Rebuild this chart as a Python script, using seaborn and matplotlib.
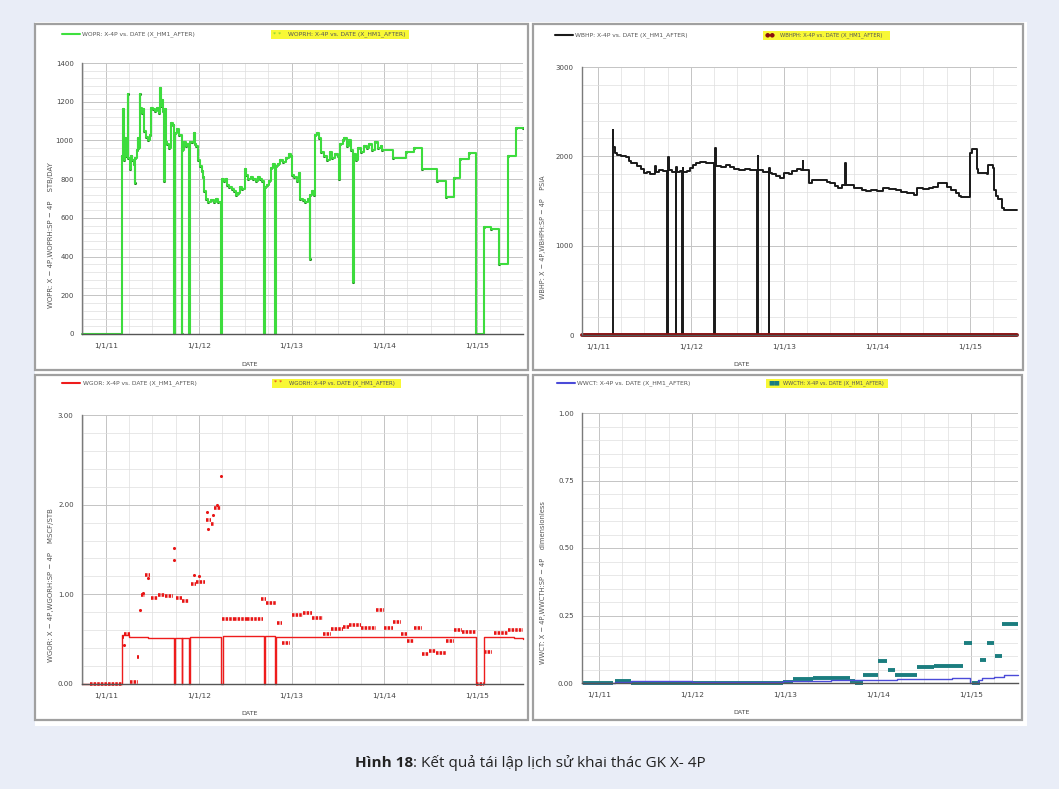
import matplotlib
matplotlib.use('Agg')
import numpy as np
import matplotlib.pyplot as plt
from matplotlib.patches import Rectangle
from matplotlib.lines import Line2D
from matplotlib.ticker import FixedLocator, MultipleLocator, FormatStrFormatter
import seaborn as sns

sns.set_style('white')
plt.rcParams['font.family'] = ['DejaVu Sans']

# ---------------- data (decimal years) ----------------
year_ticks = [2011, 2012, 2013, 2014, 2015]
year_labels = ['1/1/11', '1/1/12', '1/1/13', '1/1/14', '1/1/15']

# WOPR (oil rate, STB/DAY) - step values
wopr_t = [2010.74, 2011.17, 2011.185, 2011.19, 2011.21, 2011.215, 2011.235, 2011.24, 2011.26, 2011.265,
          2011.28, 2011.30, 2011.31, 2011.315, 2011.33, 2011.345, 2011.35, 2011.365, 2011.37, 2011.385,
          2011.40, 2011.415, 2011.43, 2011.45, 2011.47, 2011.49, 2011.51, 2011.53, 2011.55, 2011.57,
          2011.585, 2011.59, 2011.605, 2011.62, 2011.63, 2011.635, 2011.645, 2011.66, 2011.68, 2011.70,
          2011.72, 2011.735, 2011.745, 2011.77, 2011.79, 2011.815, 2011.825, 2011.84, 2011.86, 2011.875,
          2011.895, 2011.905, 2011.93, 2011.95, 2011.955, 2011.97, 2011.99, 2012.01, 2012.03, 2012.05,
          2012.06, 2012.08, 2012.10, 2012.13, 2012.16, 2012.19, 2012.21, 2012.235, 2012.25, 2012.27,
          2012.29, 2012.31, 2012.33, 2012.36, 2012.38, 2012.40, 2012.42, 2012.44, 2012.47, 2012.495,
          2012.51, 2012.53, 2012.56, 2012.59, 2012.62, 2012.64, 2012.66, 2012.68, 2012.705, 2012.715,
          2012.74, 2012.76, 2012.78, 2012.80, 2012.825, 2012.835, 2012.85, 2012.88, 2012.91, 2012.94,
          2012.97, 2012.99, 2013.005, 2013.03, 2013.06, 2013.08, 2013.095, 2013.12, 2013.15, 2013.18,
          2013.195, 2013.20, 2013.22, 2013.24, 2013.255, 2013.28, 2013.30, 2013.32, 2013.35, 2013.38,
          2013.41, 2013.44, 2013.47, 2013.50, 2013.515, 2013.52, 2013.55, 2013.57, 2013.60, 2013.62,
          2013.64, 2013.665, 2013.67, 2013.69, 2013.72, 2013.75, 2013.78, 2013.81, 2013.84, 2013.87,
          2013.90, 2013.93, 2013.96, 2013.98, 2014.09, 2014.23, 2014.32, 2014.41, 2014.57, 2014.66,
          2014.75, 2014.82, 2014.91, 2014.99, 2015.07, 2015.15, 2015.24, 2015.33, 2015.42, 2015.495]
wopr_v = [0, 920, 1160, 900, 1010, 920, 1240, 910, 850, 920,
          900, 880, 780, 910, 950, 1010, 960, 1240, 1170, 1140,
          1160, 1050, 1020, 1000, 1030, 1170, 1160, 1150, 1170, 1140,
          1270, 1180, 1210, 1150, 790, 1160, 990, 980, 960, 1090,
          1080, 0, 1040, 1060, 1030, 0, 950, 990, 970, 980,
          0, 990, 990, 1040, 980, 970, 900, 870, 840, 810,
          740, 700, 680, 690, 680, 700, 680, 0, 800, 790,
          800, 770, 760, 750, 740, 720, 730, 760, 750, 850,
          820, 800, 810, 800, 790, 810, 800, 790, 0, 760,
          770, 790, 860, 880, 0, 870, 880, 900, 890, 910,
          930, 920, 820, 810, 790, 830, 700, 690, 680, 700,
          390, 720, 740, 720, 1030, 1040, 1010, 940, 920, 900,
          940, 910, 930, 920, 800, 980, 1000, 1010, 970, 1000,
          950, 270, 930, 900, 960, 940, 970, 960, 980, 950,
          990, 960, 970, 950, 910, 940, 960, 850, 790, 710,
          805, 905, 935, 0, 555, 540, 360, 920, 1065, 1065]

# WBHP (bottom hole pressure, PSIA)
wbhp_t = [2010.83, 2011.16, 2011.165, 2011.18, 2011.21, 2011.25, 2011.30, 2011.33, 2011.36, 2011.39,
          2011.42, 2011.46, 2011.50, 2011.53, 2011.56, 2011.61, 2011.62, 2011.66, 2011.70, 2011.745,
          2011.755, 2011.76, 2011.80, 2011.835, 2011.845, 2011.85, 2011.88, 2011.905, 2011.915, 2011.92,
          2011.96, 2011.99, 2012.02, 2012.06, 2012.10, 2012.16, 2012.21, 2012.25, 2012.26, 2012.265,
          2012.27, 2012.32, 2012.38, 2012.42, 2012.46, 2012.52, 2012.58, 2012.64, 2012.71, 2012.72,
          2012.725, 2012.78, 2012.835, 2012.845, 2012.85, 2012.87, 2012.91, 2012.96, 2013.00, 2013.06,
          2013.09, 2013.14, 2013.18, 2013.20, 2013.205, 2013.25, 2013.27, 2013.30, 2013.36, 2013.42,
          2013.46, 2013.50, 2013.55, 2013.58, 2013.62, 2013.66, 2013.665, 2013.72, 2013.75, 2013.80,
          2013.84, 2013.88, 2013.94, 2014.00, 2014.06, 2014.13, 2014.20, 2014.26, 2014.32, 2014.40,
          2014.43, 2014.50, 2014.56, 2014.60, 2014.66, 2014.70, 2014.75, 2014.80, 2014.85, 2014.88,
          2014.90, 2014.995, 2015.02, 2015.06, 2015.08, 2015.09, 2015.18, 2015.19, 2015.25, 2015.26,
          2015.28, 2015.30, 2015.34, 2015.36, 2015.505]
wbhp_v = [0, 2290, 2100, 2040, 2010, 2000, 1990, 1950, 1920, 1930,
          1890, 1860, 1810, 1830, 1800, 1890, 1820, 1850, 1840, 0,
          1990, 1850, 1830, 0, 1880, 1820, 1840, 0, 1870, 1830,
          1840, 1870, 1900, 1920, 1940, 1930, 1920, 0, 2090, 1950,
          1890, 1880, 1900, 1880, 1860, 1850, 1860, 1850, 0, 2000,
          1850, 1830, 0, 1870, 1810, 1800, 1780, 1760, 1810, 1800,
          1840, 1860, 1850, 1950, 1850, 1850, 1700, 1740, 1730, 1740,
          1710, 1700, 1670, 1650, 1680, 1930, 1680, 1680, 1650, 1640,
          1620, 1610, 1620, 1610, 1640, 1630, 1620, 1600, 1590, 1570,
          1640, 1630, 1650, 1660, 1700, 1700, 1660, 1620, 1590, 1560,
          1540, 2040, 2080, 2080, 1860, 1810, 1800, 1900, 1870, 1620,
          1560, 1520, 1420, 1400, 1400]
wbhph_t = [2010.83, 2015.505]
wbhph_v = [0, 0]

# WGOR (gas-oil ratio, MSCF/STB) - simulated
wgor_t = [2010.74, 2011.17, 2011.25, 2011.45, 2011.735, 2011.745, 2011.815, 2011.825, 2011.895, 2011.905,
          2012.235, 2012.26, 2012.705, 2012.715, 2012.825, 2012.835, 2013.30, 2014.99, 2015.07, 2015.40,
          2015.495]
wgor_v = [0, 0.55, 0.52, 0.51, 0, 0.51, 0, 0.51, 0, 0.52,
          0, 0.53, 0, 0.53, 0, 0.52, 0.52, 0, 0.52, 0.51,
          0.50]
# WGORH - observed, as runs of points
wgorh_start = [2010.83, 2011.17, 2011.20, 2011.26, 2011.33, 2011.38, 2011.42, 2011.49, 2011.56, 2011.64,
               2011.75, 2011.82, 2011.92, 2011.97, 2012.08, 2012.13, 2012.17, 2012.25, 2012.38, 2012.52,
               2012.67, 2012.73, 2012.84, 2012.90, 2013.01, 2013.12, 2013.22, 2013.34, 2013.43, 2013.55,
               2013.62, 2013.75, 2013.91, 2014.00, 2014.09, 2014.18, 2014.25, 2014.32, 2014.41, 2014.48,
               2014.56, 2014.66, 2014.75, 2014.84, 2014.99, 2015.07, 2015.18, 2015.33]
wgorh_end = [2011.17, 2011.20, 2011.26, 2011.35, 2011.36, 2011.42, 2011.47, 2011.56, 2011.64, 2011.72,
             2011.82, 2011.90, 2011.97, 2012.07, 2012.13, 2012.17, 2012.24, 2012.38, 2012.52, 2012.69,
             2012.73, 2012.83, 2012.90, 2012.98, 2013.12, 2013.22, 2013.34, 2013.43, 2013.55, 2013.62,
             2013.75, 2013.91, 2014.00, 2014.09, 2014.18, 2014.25, 2014.32, 2014.41, 2014.48, 2014.56,
             2014.66, 2014.75, 2014.84, 2014.99, 2015.07, 2015.16, 2015.33, 2015.49]
wgorh_val = [0.0, 0.52, 0.56, 0.02, 0.30, 0.99, 1.22, 0.96, 0.99, 0.98,
             0.96, 0.93, 1.12, 1.14, 1.83, 1.78, 1.96, 0.72, 0.73, 0.72,
             0.95, 0.90, 0.68, 0.46, 0.77, 0.79, 0.74, 0.56, 0.61, 0.64,
             0.66, 0.63, 0.83, 0.63, 0.69, 0.56, 0.48, 0.63, 0.34, 0.37,
             0.35, 0.48, 0.60, 0.58, 0.0, 0.36, 0.57, 0.60]
wgorh_pt_t = [2011.20, 2011.37, 2011.40, 2011.45, 2011.73, 2011.735, 2011.95, 2012.00, 2012.09, 2012.10,
              2012.15, 2012.20, 2012.245]
wgorh_pt_v = [0.44, 0.82, 1.02, 1.18, 1.52, 1.38, 1.22, 1.20, 1.92, 1.73,
              1.88, 2.00, 2.32]

# WWCT (water cut) - simulated
wwct_t = [2010.82, 2011.17, 2011.35, 2012.00, 2012.50, 2012.98, 2013.10, 2013.50, 2013.80, 2014.20,
          2014.60, 2014.80, 2014.99, 2015.07, 2015.12, 2015.25, 2015.35, 2015.505]
wwct_v = [0.0, 0.004, 0.006, 0.004, 0.004, 0.006, 0.008, 0.010, 0.012, 0.014,
          0.016, 0.020, 0.0, 0.010, 0.018, 0.022, 0.030, 0.030]
# WWCTH - observed runs
wwcth_start = [2010.83, 2011.17, 2011.35, 2012.98, 2013.09, 2013.30, 2013.70, 2013.75, 2013.84, 2014.00,
               2014.11, 2014.18, 2014.42, 2014.60, 2014.93, 2015.01, 2015.10, 2015.17, 2015.26, 2015.33]
wwcth_end = [2011.15, 2011.35, 2012.98, 2013.09, 2013.30, 2013.70, 2013.75, 2013.84, 2014.00, 2014.10,
             2014.18, 2014.42, 2014.60, 2014.91, 2015.01, 2015.10, 2015.16, 2015.25, 2015.33, 2015.50]
wwcth_val = [0.0, 0.008, 0.0, 0.005, 0.015, 0.018, 0.008, 0.0, 0.03, 0.08,
             0.05, 0.03, 0.06, 0.063, 0.15, 0.0, 0.085, 0.15, 0.10, 0.22]

# ---------------- layout ----------------
W, H = 1059, 789
fig = plt.figure(figsize=(W / 100, H / 100), dpi=100)
fig.patch.set_facecolor('#e9edf7')


def fx(x):
    return x / W


def fy(y):
    return 1 - y / H


def box(x0, y0, x1, y1):
    return [fx(x0), fy(y1), (x1 - x0) / W, (y1 - y0) / H]


# white sheet and panel frames (behind the axes)
fig.add_artist(Rectangle((fx(35), fy(726)), (1027 - 35) / W, (726 - 22) / H,
                         transform=fig.transFigure, facecolor='white', edgecolor='none', zorder=-3))
for (x0, y0, x1, y1) in [(35, 24, 528, 370), (533, 24, 1023, 370),
                         (35, 375, 528, 720), (533, 375, 1022, 720)]:
    fig.add_artist(Rectangle((fx(x0), fy(y1)), (x1 - x0) / W, (y1 - y0) / H,
                             transform=fig.transFigure, facecolor='white',
                             edgecolor='#a0a0a0', lw=1.6, zorder=-2))


def setup_ax(ax, xlim, ylim, ymaj, ymin, fmt):
    ax.set_facecolor('none')
    ax.set_xlim(*xlim)
    ax.set_ylim(*ylim)
    ax.xaxis.set_major_locator(FixedLocator(year_ticks))
    ax.set_xticklabels(year_labels)
    ax.xaxis.set_minor_locator(MultipleLocator(0.25))
    ax.yaxis.set_major_locator(MultipleLocator(ymaj))
    ax.yaxis.set_minor_locator(MultipleLocator(ymin))
    ax.yaxis.set_major_formatter(FormatStrFormatter(fmt))
    ax.grid(True, which='major', color='#c4c4c4', lw=0.7)
    ax.grid(True, which='minor', color='#dedede', lw=0.5)
    ax.set_axisbelow(True)
    for s in ['top', 'right']:
        ax.spines[s].set_visible(False)
    ax.spines['left'].set_color('#7a7a7a')
    ax.spines['bottom'].set_color('#555555')
    ax.spines['left'].set_linewidth(1.0)
    ax.spines['bottom'].set_linewidth(1.0)
    ax.tick_params(axis='y', which='major', direction='inout', length=8, width=1.6,
                   color='#555555', labelsize=5.0, labelcolor='#444444', pad=2)
    ax.tick_params(axis='y', which='minor', direction='in', length=4, width=0.8, color='#777777')
    ax.tick_params(axis='x', which='both', direction='out', length=3, width=0.7,
                   color='#666666', labelsize=5.4, labelcolor='#444444', pad=3.5)
    ax.set_xlabel('DATE', fontsize=4.6, color='#444444')
    ax.set_ylabel('')


def legend(x_line, x_text, y, x_box, x_box_end, color, name, hname, mark, mcolor, hsize):
    fig.add_artist(Line2D([fx(x_line), fx(x_line + 18)], [fy(y), fy(y)],
                          transform=fig.transFigure, color=color, lw=1.5))
    fig.text(fx(x_text), fy(y), name + ': X-4P vs. DATE (X_HM1_AFTER)',
             fontsize=4.3, color='#555555', va='center')
    fig.add_artist(Rectangle((fx(x_box), fy(y + 4.5)), (x_box_end - x_box) / W, 9 / H,
                             transform=fig.transFigure, facecolor='#f8f836', edgecolor='none'))
    fig.text(fx(x_box + 2), fy(y), mark, fontsize=4.5, color=mcolor, va='center')
    fig.text(fx(x_box + 17), fy(y), hname + ': X-4P vs. DATE (X_HM1_AFTER)',
             fontsize=hsize, color='#555555', va='center')


# ---- top-left: WOPR ----
ax1 = fig.add_axes(box(82, 63, 523, 334))
setup_ax(ax1, (2010.742, 2015.495), (0, 1400), 200, 40, '%d')
sns.lineplot(x=wopr_t, y=wopr_v, estimator=None, sort=False, drawstyle='steps-post',
             color='#3ddc3d', lw=1.5, ax=ax1, legend=False, clip_on=False)
sns.scatterplot(x=wopr_t, y=wopr_v, color='#1f8a1f', s=5, linewidth=0, ax=ax1, legend=False)
ax1.xaxis.set_label_coords(0.379, -0.103)
fig.text(fx(51), fy(235), 'WOPR: X − 4P,WOPRH:SP − 4P    STB/DAY', rotation=90,
         fontsize=5.0, color='#555555', ha='center', va='center')
legend(62, 82, 34, 271, 409, '#3ee03e', 'WOPR', 'WOPRH', '* *', '#66cc33', 4.3)

# ---- top-right: WBHP ----
ax2 = fig.add_axes(box(582, 67, 1017, 335))
setup_ax(ax2, (2010.83, 2015.505), (0, 3000), 1000, 200, '%d')
sns.lineplot(x=wbhp_t, y=wbhp_v, estimator=None, sort=False, drawstyle='steps-post',
             color='#1a1a1a', lw=1.4, ax=ax2, legend=False, clip_on=False)
sns.lineplot(x=wbhph_t, y=wbhph_v, estimator=None, sort=False,
             color='#8a0f0f', lw=2.8, ax=ax2, legend=False, clip_on=False)
ax2.xaxis.set_label_coords(0.368, -0.1)
fig.text(fx(543), fy(237), 'WBHP: X − 4P,WBHPH:SP − 4P    PSIA', rotation=90,
         fontsize=4.7, color='#555555', ha='center', va='center')
legend(555, 575, 35, 763, 890, '#1a1a1a', 'WBHP', 'WBHPH', '●●', '#8a0f0f', 3.8)

# ---- bottom-left: WGOR ----
ax3 = fig.add_axes(box(82, 415, 523, 684))
setup_ax(ax3, (2010.742, 2015.495), (0, 3), 1, 0.2, '%.2f')
sns.lineplot(x=wgor_t, y=wgor_v, estimator=None, sort=False, drawstyle='steps-post',
             color='#ee1c1c', lw=1.0, ax=ax3, legend=False, clip_on=False)
ax3.hlines(wgorh_val, wgorh_start, wgorh_end, color='#e81515', lw=2.6,
           linestyles=(0, (0.7, 0.3)), clip_on=False)
sns.scatterplot(x=wgorh_pt_t, y=wgorh_pt_v, color='#e81515', s=5, linewidth=0, ax=ax3, legend=False)
ax3.xaxis.set_label_coords(0.379, -0.1)
fig.text(fx(51), fy(585), 'WGOR: X − 4P,WGORH:SP − 4P    MSCF/STB', rotation=90,
         fontsize=5.0, color='#555555', ha='center', va='center')
legend(62, 83, 383, 272, 401, '#ee1c1c', 'WGOR', 'WGORH', '* *', '#e81515', 3.9)

# ---- bottom-right: WWCT ----
ax4 = fig.add_axes(box(582, 413, 1018, 683))
setup_ax(ax4, (2010.82, 2015.505), (0, 1), 0.25, 0.05, '%.2f')
ax4.hlines(wwcth_val, wwcth_start, wwcth_end, color='#1b7d7f', lw=2.8, clip_on=False)
sns.lineplot(x=wwct_t, y=wwct_v, estimator=None, sort=False, drawstyle='steps-post',
             color='#4b4bd8', lw=1.0, ax=ax4, legend=False, clip_on=False)
ax4.xaxis.set_label_coords(0.367, -0.1)
fig.text(fx(543), fy(583), 'WWCT: X − 4P,WWCTH:SP − 4P    dimensionless', rotation=90,
         fontsize=4.9, color='#555555', ha='center', va='center')
legend(557, 577, 383, 766, 888, '#4b4bd8', 'WWCT', 'WWCTH', '■■', '#1b7d7f', 3.7)

# ---- caption ----
cap_font = ['Open Sans', 'DejaVu Sans']
t1 = fig.text(0, fy(763), 'Hình 18', fontsize=11, fontweight='bold', family=cap_font,
              color='#222222', va='center')
t2 = fig.text(0, fy(763), ': Kết quả tái lập lịch sử khai thác GK X- 4P', fontsize=11,
              family=cap_font, color='#222222', va='center')
fig.canvas.draw()
r = fig.canvas.get_renderer()
w1 = t1.get_window_extent(r).width
w2 = t2.get_window_extent(r).width
left = 530 - (w1 + w2) / 2
t1.set_x(fx(left))
t2.set_x(fx(left + w1))

fig.savefig('out.png', dpi=100, facecolor=fig.get_facecolor())
